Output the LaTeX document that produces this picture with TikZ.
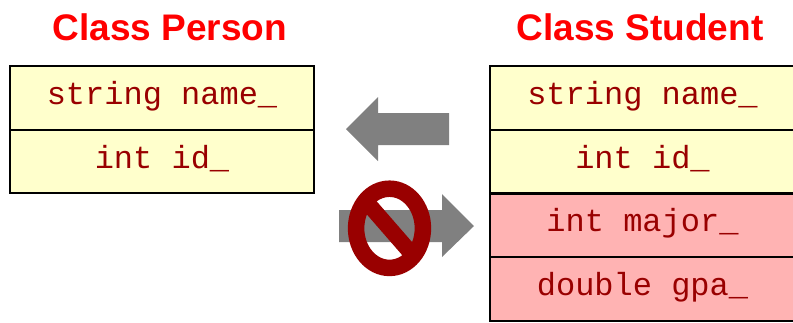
\documentclass[tikz,border=0pt]{standalone}
\usepackage{fontspec}
\setmainfont{Liberation Sans}
\newfontfamily\codefont{Liberation Mono}
\definecolor{codered}{HTML}{990000}
\definecolor{titlered}{HTML}{FF0000}
\definecolor{cellyellow}{HTML}{FFFFCC}
\definecolor{cellpink}{HTML}{FFB3B3}
\definecolor{arrowgray}{HTML}{808080}
\definecolor{nored}{HTML}{990000}
\begin{document}
\begin{tikzpicture}[x=1pt,y=-1pt,
  cell/.style={draw=black, line width=2pt, minimum height=63.75pt, inner sep=0pt,
    text height=20pt, text depth=7pt, text=codered,
    font=\codefont\fontsize{32}{38}\selectfont},
  lcell/.style={cell, minimum width=304pt},
  rcell/.style={cell, minimum width=305pt},
  yel/.style={fill=cellyellow},
  pink/.style={fill=cellpink},
  title/.style={anchor=base, text=titlered, font=\bfseries\fontsize{37}{44}\selectfont, inner sep=0pt},
  bigarrow/.style={fill=arrowgray}
]
\useasboundingbox (0,0) rectangle (793,322);
% titles
\node[title] (tp) at (170,40) {Class Person};
\node[title] (ts) at (640,40) {Class Student};
% left class
\node[lcell,yel] (p1) at (162,97.9) {string name\_};
\node[lcell,yel] (p2) at (162,161.6) {int id\_};
% right class
\node[rcell,yel] (s1) at (642.5,97.9) {string name\_};
\node[rcell,yel] (s2) at (642.5,161.6) {int id\_};
\node[rcell,pink] (s3) at (642.5,225.4) {int major\_};
\node[rcell,pink] (s4) at (642.5,289.1) {double gpa\_};
% left arrow (allowed)
\fill[bigarrow] (346,129) -- (378,97) -- (378,113) -- (449,113) -- (449,145) -- (378,145) -- (378,161) -- cycle;
% right arrow (forbidden)
\fill[bigarrow] (474,226) -- (442,194) -- (442,210) -- (339,210) -- (339,242) -- (442,242) -- (442,257) -- cycle;
% no sign
\coordinate (nc) at (389.5,228.3);
\draw[nored, line width=16.5pt] (nc) ellipse [x radius=33.4pt, y radius=39.6pt];
\begin{scope}
  \clip (nc) ellipse [x radius=33.4pt, y radius=39.6pt];
  \draw[nored, line width=16pt] ([shift={(-60,-69)}]nc) -- ([shift={(60,69)}]nc);
\end{scope}
\end{tikzpicture}
\end{document}
